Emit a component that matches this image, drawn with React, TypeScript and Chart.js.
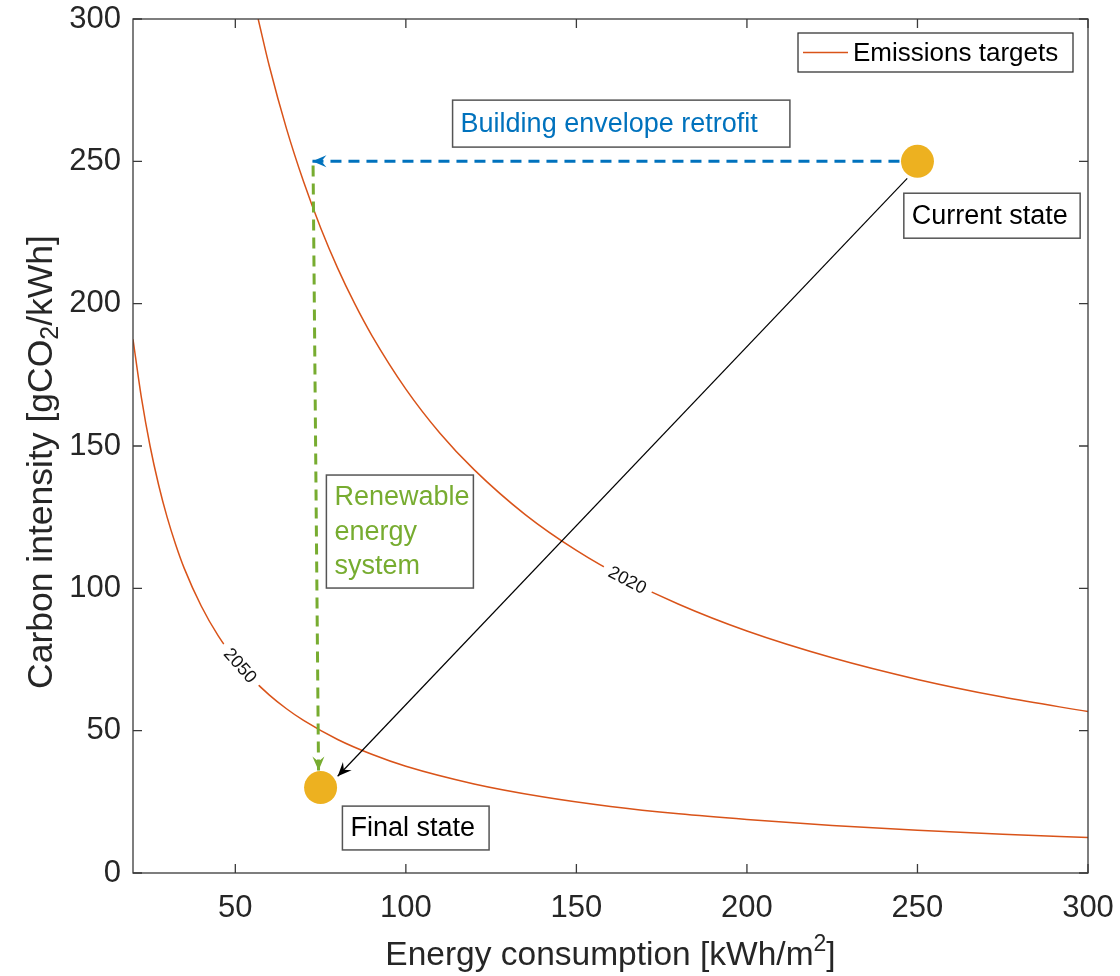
import React, { useEffect, useRef } from "react";
import { Chart, registerables } from "chart.js";

Chart.register(...registerables);

// Axis ranges and tick values
const X_RANGE = [20, 300];
const Y_RANGE = [0, 300];
const X_TICKS = [50, 100, 150, 200, 250, 300];
const Y_TICKS = [0, 50, 100, 150, 200, 250, 300];

// Emissions target curves (energy consumption vs. carbon intensity)
const TARGET_2020_X = [56.7, 60, 65, 70, 75, 80, 85, 90, 100, 110, 120, 135, 150, 165, 180, 200, 225, 250, 275, 300];
const TARGET_2020_Y = [300, 283.3, 261.5, 242.9, 226.7, 212.5, 200, 188.9, 170, 154.5, 141.7, 125.9, 113.3, 103, 94.4, 85, 75.6, 68, 61.8, 56.7];
const TARGET_2050_X = [20, 22.5, 25, 27.5, 30, 32.5, 35, 40, 45, 50, 55, 60, 65, 70, 80, 90, 100, 120, 140, 160, 180, 200, 225, 250, 275, 300];
const TARGET_2050_Y = [187.5, 166.7, 150, 136.4, 125, 115.4, 107.1, 93.8, 83.3, 75, 68.2, 62.5, 57.7, 53.6, 46.9, 41.7, 37.5, 31.3, 26.8, 23.4, 20.8, 18.8, 16.7, 15, 13.6, 12.5];
const CURVE_YEARS = ["2020", "2050"];
const CURVE_LABEL_AT_X = [165, 51.5];
const LEGEND_LABEL = "Emissions targets";

// Building states
const STATE_X = [250, 75];
const STATE_Y = [250, 30];

// Transition arrows
const RETROFIT_X = [250, 72.6];
const RETROFIT_Y = [250, 250];
const RENEWABLE_X = [72.8, 74.4];
const RENEWABLE_Y = [248.5, 36];
const OVERALL_X = [247, 80];
const OVERALL_Y = [244, 34];

// Annotation boxes, corners given in axis units
const TEXT_BOXES = [
  { lines: ["Building envelope retrofit"], color: "#0072BD", x0: 113.7, x1: 212.6, y0: 271.5, y1: 255.0 },
  { lines: ["Current state"], color: "#000000", x0: 246.0, x1: 297.7, y0: 238.8, y1: 223.0 },
  { lines: ["Renewable", "energy", "system"], color: "#77AC30", x0: 76.7, x1: 119.8, y0: 139.8, y1: 100.1 },
  { lines: ["Final state"], color: "#000000", x0: 81.4, x1: 124.4, y0: 23.5, y1: 8.1 },
];

const FONT = "'Liberation Sans', Arial, Helvetica, sans-serif";
const CURVE_COLOR = "#D95319";
const AXIS_COLOR = "#262626";

const pts = (xs: number[], ys: number[]) => xs.map((x, i) => ({ x, y: ys[i] }));

function drawArrowHead(ctx: CanvasRenderingContext2D, fromX: number, fromY: number, tipX: number, tipY: number, color: string) {
  const ang = Math.atan2(tipY - fromY, tipX - fromX);
  const L = 14;
  const H = 6;
  const N = 9;
  ctx.save();
  ctx.translate(tipX, tipY);
  ctx.rotate(ang);
  ctx.beginPath();
  ctx.moveTo(0, 0);
  ctx.lineTo(-L, -H);
  ctx.lineTo(-N, 0);
  ctx.lineTo(-L, H);
  ctx.closePath();
  ctx.fillStyle = color;
  ctx.fill();
  ctx.restore();
}

function interpY(xs: number[], ys: number[], xv: number) {
  for (let i = 0; i < xs.length - 1; i++) {
    if (xv >= xs[i] && xv <= xs[i + 1]) {
      const t = (xv - xs[i]) / (xs[i + 1] - xs[i]);
      return ys[i] + t * (ys[i + 1] - ys[i]);
    }
  }
  return ys[ys.length - 1];
}

const decorations = {
  id: "decorations",
  afterDatasetsDraw(chart: any) {
    const { ctx, chartArea: a, scales } = chart;
    const sx = scales.x;
    const sy = scales.y;

    // Year labels sitting in gaps of the target curves
    const curves = [
      [TARGET_2020_X, TARGET_2020_Y],
      [TARGET_2050_X, TARGET_2050_Y],
    ];
    curves.forEach(([xs, ys], i) => {
      const xv = CURVE_LABEL_AT_X[i];
      const px = sx.getPixelForValue(xv);
      const py = sy.getPixelForValue(interpY(xs, ys, xv));
      const dx = sx.getPixelForValue(xv + 1) - sx.getPixelForValue(xv - 1);
      const dy = sy.getPixelForValue(interpY(xs, ys, xv + 1)) - sy.getPixelForValue(interpY(xs, ys, xv - 1));
      const ang = Math.atan2(dy, dx);
      ctx.save();
      ctx.translate(px, py);
      ctx.rotate(ang);
      ctx.font = `18px ${FONT}`;
      const w = ctx.measureText(CURVE_YEARS[i]).width;
      ctx.fillStyle = "#ffffff";
      ctx.fillRect(-w / 2 - 7, -7, w + 14, 14);
      ctx.fillStyle = "#111111";
      ctx.textAlign = "center";
      ctx.textBaseline = "middle";
      ctx.fillText(CURVE_YEARS[i], 0, 1);
      ctx.restore();
    });

    // Arrow heads at the end of each transition line
    chart.data.datasets.forEach((ds: any, i: number) => {
      if (!ds.arrow) return;
      const meta = chart.getDatasetMeta(i);
      const n = meta.data.length;
      const p0 = meta.data[n - 2];
      const p1 = meta.data[n - 1];
      drawArrowHead(ctx, p0.x, p0.y, p1.x, p1.y, ds.borderColor);
    });

    // Text boxes
    TEXT_BOXES.forEach((b) => {
      const x0 = sx.getPixelForValue(b.x0);
      const x1 = sx.getPixelForValue(b.x1);
      const y0 = sy.getPixelForValue(b.y0);
      const y1 = sy.getPixelForValue(b.y1);
      ctx.save();
      ctx.fillStyle = "#ffffff";
      ctx.fillRect(x0, y0, x1 - x0, y1 - y0);
      ctx.strokeStyle = "#555555";
      ctx.lineWidth = 1.5;
      ctx.strokeRect(x0, y0, x1 - x0, y1 - y0);
      ctx.font = `27px ${FONT}`;
      ctx.fillStyle = b.color;
      ctx.textBaseline = "middle";
      const lh = 34.5;
      const cy = (y0 + y1) / 2;
      b.lines.forEach((t, k) => {
        const ly = cy + (k - (b.lines.length - 1) / 2) * lh + 1;
        ctx.fillText(t, x0 + 8, ly);
      });
      ctx.restore();
    });

    // Legend
    ctx.save();
    const lw = 275;
    const lh2 = 39;
    const lx = a.right - 15 - lw;
    const ly = a.top + 14;
    ctx.fillStyle = "#ffffff";
    ctx.fillRect(lx, ly, lw, lh2);
    ctx.strokeStyle = "#262626";
    ctx.lineWidth = 1.2;
    ctx.strokeRect(lx, ly, lw, lh2);
    ctx.strokeStyle = CURVE_COLOR;
    ctx.lineWidth = 1.5;
    ctx.beginPath();
    ctx.moveTo(lx + 5, ly + lh2 / 2);
    ctx.lineTo(lx + 50, ly + lh2 / 2);
    ctx.stroke();
    ctx.font = `26px ${FONT}`;
    ctx.fillStyle = "#000000";
    ctx.textBaseline = "middle";
    ctx.fillText(LEGEND_LABEL, lx + 55, ly + lh2 / 2 + 1);
    ctx.restore();

    // Axes box and inward tick marks
    ctx.save();
    ctx.strokeStyle = "#3a3a3a";
    ctx.lineWidth = 1.3;
    ctx.strokeRect(a.left, a.top, a.right - a.left, a.bottom - a.top);
    ctx.beginPath();
    const tl = 9;
    X_TICKS.forEach((v) => {
      const p = sx.getPixelForValue(v);
      ctx.moveTo(p, a.bottom);
      ctx.lineTo(p, a.bottom - tl);
      ctx.moveTo(p, a.top);
      ctx.lineTo(p, a.top + tl);
    });
    Y_TICKS.forEach((v) => {
      const p = sy.getPixelForValue(v);
      ctx.moveTo(a.left, p);
      ctx.lineTo(a.left + tl, p);
      ctx.moveTo(a.right, p);
      ctx.lineTo(a.right - tl, p);
    });
    ctx.stroke();
    ctx.restore();
  },
  afterDraw(chart: any) {
    const { ctx, chartArea: a } = chart;
    ctx.save();
    ctx.fillStyle = AXIS_COLOR;
    ctx.textBaseline = "alphabetic";
    ctx.textAlign = "left";

    const drawParts = (parts: any[], cx: number, by: number) => {
      let total = 0;
      parts.forEach((p) => {
        ctx.font = `${p.f}px ${FONT}`;
        total += ctx.measureText(p.t).width;
      });
      let x = cx - total / 2;
      parts.forEach((p) => {
        ctx.font = `${p.f}px ${FONT}`;
        ctx.fillText(p.t, x, by + p.dy);
        x += ctx.measureText(p.t).width;
      });
    };

    // x-axis title with superscript
    const xs = 33.5;
    drawParts(
      [
        { t: "Energy consumption [kWh/m", f: xs, dy: 0 },
        { t: "2", f: Math.round(xs * 0.7), dy: -14 },
        { t: "]", f: xs, dy: 0 },
      ],
      (a.left + a.right) / 2,
      965
    );

    // y-axis title with subscript
    const ys = 35.5;
    ctx.translate(52, 462);
    ctx.rotate(-Math.PI / 2);
    drawParts(
      [
        { t: "Carbon intensity [gCO", f: ys, dy: 0 },
        { t: "2", f: Math.round(ys * 0.7), dy: 6 },
        { t: "/kWh]", f: ys, dy: 0 },
      ],
      0,
      0
    );
    ctx.restore();
  },
};

export default function App() {
  const ref = useRef<HTMLCanvasElement>(null);

  useEffect(() => {
    if (!ref.current) return;
    const chart = new Chart(ref.current, {
      type: "scatter",
      data: {
        datasets: [
          {
            label: "States",
            data: pts(STATE_X, STATE_Y),
            backgroundColor: "#EDB120",
            borderWidth: 0,
            pointRadius: 16.5,
            pointHoverRadius: 16.5,
            order: 0,
          } as any,
          {
            label: "Building envelope retrofit",
            data: pts(RETROFIT_X, RETROFIT_Y),
            showLine: true,
            borderColor: "#0072BD",
            borderWidth: 3,
            borderDash: [11, 7],
            pointRadius: 0,
            arrow: true,
            order: 1,
          } as any,
          {
            label: "Renewable energy system",
            data: pts(RENEWABLE_X, RENEWABLE_Y),
            showLine: true,
            borderColor: "#77AC30",
            borderWidth: 3,
            borderDash: [11, 7],
            pointRadius: 0,
            arrow: true,
            order: 1,
          } as any,
          {
            label: "Overall path",
            data: pts(OVERALL_X, OVERALL_Y),
            showLine: true,
            borderColor: "#000000",
            borderWidth: 1.2,
            pointRadius: 0,
            arrow: true,
            order: 1,
          } as any,
          {
            label: LEGEND_LABEL,
            data: pts(TARGET_2020_X, TARGET_2020_Y),
            showLine: true,
            borderColor: CURVE_COLOR,
            borderWidth: 1.5,
            pointRadius: 0,
            cubicInterpolationMode: "monotone",
            order: 2,
          } as any,
          {
            label: LEGEND_LABEL,
            data: pts(TARGET_2050_X, TARGET_2050_Y),
            showLine: true,
            borderColor: CURVE_COLOR,
            borderWidth: 1.5,
            pointRadius: 0,
            cubicInterpolationMode: "monotone",
            order: 2,
          } as any,
        ],
      },
      options: {
        animation: false,
        responsive: false,
        events: [],
        layout: { padding: { left: 0, top: 19, right: 32, bottom: 0 } },
        plugins: {
          legend: { display: false },
          tooltip: { enabled: false },
        },
        scales: {
          x: {
            type: "linear",
            min: X_RANGE[0],
            max: X_RANGE[1],
            grid: { display: false },
            border: { display: false },
            afterBuildTicks: (s: any) => {
              s.ticks = X_TICKS.map((v) => ({ value: v }));
            },
            afterFit: (s: any) => {
              s.height = 103;
              s.paddingLeft = 0;
              s.paddingRight = 0;
            },
            ticks: {
              autoSkip: false,
              maxRotation: 0,
              padding: 9,
              color: AXIS_COLOR,
              font: { family: FONT, size: 31 },
              callback: (v: any) => String(v),
            },
          },
          y: {
            type: "linear",
            min: Y_RANGE[0],
            max: Y_RANGE[1],
            grid: { display: false },
            border: { display: false },
            afterBuildTicks: (s: any) => {
              s.ticks = Y_TICKS.map((v) => ({ value: v }));
            },
            afterFit: (s: any) => {
              s.width = 133;
              s.paddingTop = 0;
              s.paddingBottom = 0;
            },
            ticks: {
              autoSkip: false,
              padding: 4,
              color: AXIS_COLOR,
              font: { family: FONT, size: 31 },
              callback: (v: any) => String(v),
            },
          },
        },
      } as any,
      plugins: [decorations],
    });
    return () => chart.destroy();
  }, []);

  return (
    <div style={{ position: "absolute", left: 0, top: 0, width: 1120, height: 976, background: "#ffffff" }}>
      <canvas ref={ref} width={1120} height={976} style={{ display: "block" }} />
    </div>
  );
}
